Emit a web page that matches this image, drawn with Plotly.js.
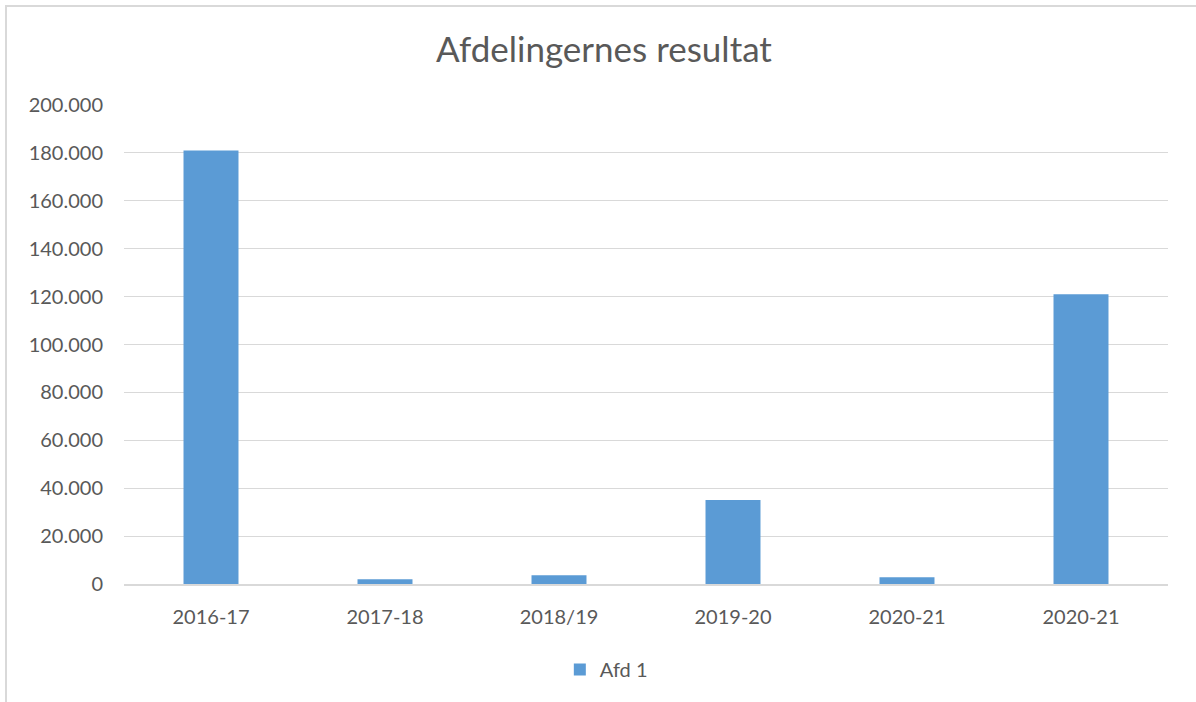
<!DOCTYPE html>
<html>
<head>
<meta charset="utf-8">
<script src="https://cdn.plot.ly/plotly-3.0.1.min.js"></script>
<style>
  html, body { margin: 0; padding: 0; background: #ffffff; }
  #frame { position: absolute; left: 5px; top: 5px; width: 1200px; height: 710px;
           border-left: 2px solid #d9d9d9; border-top: 2px solid #d9d9d9; pointer-events: none; }
  #chart { position: absolute; left: 0; top: 0; width: 1196px; height: 702px; }
</style>
</head>
<body>
<div id="chart"></div>
<div id="frame"></div>
<script>
const categories = ["2016-17", "2017-18", "2018/19", "2019-20", "2020-21", "2020-21"];
const seriesName = "Afd 1";
const values = [181000, 2000, 3700, 35100, 2800, 121000];
const yTicks = [0, 20000, 40000, 60000, 80000, 100000, 120000, 140000, 160000, 180000, 200000];

const positions = categories.map((c, i) => i);
const textColor = "#595959";
const font = "Lato, 'Open Sans', sans-serif";

const trace = {
  type: "bar",
  x: positions,
  y: values,
  name: seriesName,
  marker: { color: "#5B9BD5" },
  width: 0.316,
  showlegend: true
};

const layout = {
  width: 1196,
  height: 702,
  margin: { l: 124, r: 28, t: 105, b: 118 },
  paper_bgcolor: "#ffffff",
  plot_bgcolor: "#ffffff",
  separators: ",.",
  font: { family: font, color: textColor, size: 20 },
  title: {
    text: "Afdelingernes resultat",
    font: { family: font, size: 35, color: textColor },
    x: 0.505, xanchor: "center",
    y: 1 - 50 / 702, yanchor: "middle", yref: "container"
  },
  xaxis: {
    tickvals: positions,
    ticktext: categories,
    range: [-0.5, categories.length - 0.5],
    showgrid: false,
    zeroline: false,
    showline: true,
    linecolor: "#d9d9d9",
    linewidth: 2,
    ticks: "",
    ticklabelstandoff: 14,
    tickfont: { size: 20, color: textColor, family: font },
    fixedrange: true
  },
  yaxis: {
    range: [0, 200000],
    tickvals: yTicks,
    tickformat: ",d",
    showgrid: true,
    gridcolor: "#d9d9d9",
    gridwidth: 1,
    zeroline: false,
    showline: false,
    ticks: "",
    ticklabelstandoff: 20,
    tickfont: { size: 20, color: textColor, family: font },
    fixedrange: true
  },
  legend: {
    orientation: "h",
    x: 0.462, xanchor: "center",
    y: -0.138, yanchor: "top",
    font: { size: 20, color: textColor, family: font }
  },
  bargap: 0.684
};

Plotly.newPlot("chart", [trace], layout, { displayModeBar: false, staticPlot: true });
</script>
</body>
</html>
